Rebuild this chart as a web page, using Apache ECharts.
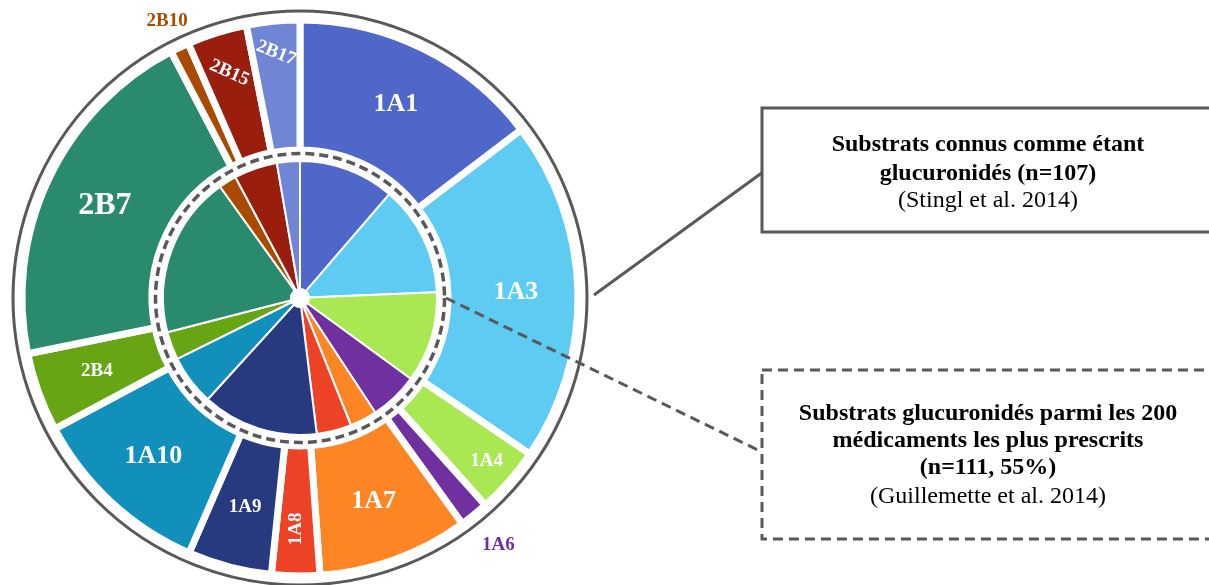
<!DOCTYPE html>
<html>
<head>
<meta charset="utf-8">
<script src="https://cdn.jsdelivr.net/npm/echarts@6/dist/echarts.min.js"></script>
<style>
  html, body { margin: 0; padding: 0; background: #ffffff; }
  #chart { width: 1209px; height: 585px; }
</style>
</head>
<body>
<div id="chart"></div>
<script>
// UGT isoforms, clockwise from 12 o'clock
const categories = ['1A1', '1A3', '1A4', '1A6', '1A7', '1A8', '1A9', '1A10', '2B4', '2B7', '2B10', '2B15', '2B17'];

// Outer ring: substrates known to be glucuronidated (Stingl et al. 2014), share in %
const knownSubstrates = [14.7, 19.9, 3.9, 1.7, 8.8, 2.8, 4.9, 10.7, 4.6, 20.6, 1.1, 3.5, 3.1];

// Inner pie: glucuronidated substrates among the 200 most prescribed drugs (Guillemette et al. 2014), share in %
const topPrescribed = [11.3, 13.0, 10.7, 5.7, 3.2, 4.1, 13.7, 5.9, 3.3, 19.1, 2.1, 5.1, 2.7];

const isoformColors = ['#4f67c8', '#5ecbf2', '#a9e852', '#7030a0', '#fd8524', '#ee4227', '#27397f',
                       '#1190bc', '#67a514', '#2a8a6e', '#a94a00', '#991e0e', '#7085d4'];

// Label look per isoform on the outer ring
// r: radius where the label sits (ring middle if absent); rotate: degrees, counter-clockwise
const labelLook = {
  '1A1':  { size: 26 },
  '1A3':  { size: 26 },
  '1A4':  { size: 19, r: 245 },
  '1A6':  { size: 19, r: 314, color: '#7030a0' },
  '1A7':  { size: 26 },
  '1A8':  { size: 19, r: 231, rotate: 90 },
  '1A9':  { size: 19 },
  '1A10': { size: 26 },
  '2B4':  { size: 19 },
  '2B7':  { size: 32 },
  '2B10': { size: 19, r: 304, color: '#a94a00' },
  '2B15': { size: 19, r: 236, rotate: -24 },
  '2B17': { size: 19, r: 246, rotate: -22 }
};

const captionTop = ['Substrats connus comme étant', 'glucuronidés (n=107)', '(Stingl et al. 2014)'];
const captionBottom = ['Substrats glucuronidés parmi les 200', 'médicaments les plus prescrits', '(n=111, 55%)', '(Guillemette et al. 2014)'];

const CX = 300, CY = 298;
const OUTER_R = [148, 278];
const INNER_R = [9, 137];
const GREY = '#595959';
const SERIF = '"Liberation Serif", "Times New Roman", serif';

// Mid angle of each outer slice (radians, clockwise from 12 o'clock)
const outerTotal = knownSubstrates.reduce((a, b) => a + b, 0);
const outerMid = [];
knownSubstrates.reduce((acc, v) => {
  outerMid.push((acc + v / 2) / outerTotal * 2 * Math.PI);
  return acc + v;
}, 0);
const ringMid = (OUTER_R[0] + OUTER_R[1]) / 2;

const outerData = categories.map((name, i) => {
  const look = labelLook[name];
  return {
    name: name,
    value: knownSubstrates[i],
    itemStyle: { color: isoformColors[i] },
    label: {
      show: !look.rotate,
      fontSize: look.size,
      color: look.color || '#ffffff'
    }
  };
});

const innerData = categories.map((name, i) => ({
  name: name,
  value: topPrescribed[i],
  itemStyle: { color: isoformColors[i] }
}));

// Tilted labels of the narrow slices, placed along each slice's mid angle
const tiltedLabels = categories
  .map((name, i) => ({ name, i, look: labelLook[name] }))
  .filter(d => d.look.rotate)
  .map(d => ({
    type: 'text', z: 12,
    x: CX + d.look.r * Math.sin(outerMid[d.i]),
    y: CY - d.look.r * Math.cos(outerMid[d.i]),
    rotation: d.look.rotate * Math.PI / 180,
    style: {
      text: d.name, fill: d.look.color || '#ffffff',
      textAlign: 'center', textVerticalAlign: 'middle',
      font: 'bold ' + d.look.size + 'px ' + SERIF
    }
  }));

function captionLines(lines, ys, boldCount) {
  return lines.map((t, i) => ({
    type: 'text', z: 11, x: 988, y: ys[i],
    style: {
      text: t, fill: '#000000', textAlign: 'center', textVerticalAlign: 'middle',
      font: (i < boldCount ? 'bold ' : '') + '24px ' + SERIF
    }
  }));
}

const chart = echarts.init(document.getElementById('chart'), null, { renderer: 'canvas' });

chart.setOption({
  backgroundColor: '#ffffff',
  animation: false,
  series: [
    {
      type: 'pie',
      silent: true,
      center: [CX, CY],
      radius: INNER_R,
      startAngle: 90,
      clockwise: true,
      avoidLabelOverlap: false,
      label: { show: false },
      labelLine: { show: false },
      itemStyle: { borderColor: '#ffffff', borderWidth: 2 },
      data: innerData,
      z: 2
    },
    {
      type: 'pie',
      silent: true,
      center: [CX, CY],
      radius: OUTER_R,
      startAngle: 90,
      clockwise: true,
      avoidLabelOverlap: false,
      itemStyle: { borderColor: '#ffffff', borderWidth: 7 },
      label: {
        show: true,
        position: 'inside',
        formatter: '{b}',
        fontFamily: SERIF,
        fontWeight: 'bold'
      },
      labelLine: { show: false },
      labelLayout: function (params) {
        const look = labelLook[categories[params.dataIndex]];
        if (!look || !look.r || look.rotate) return {};
        const a = outerMid[params.dataIndex];
        const d = look.r - ringMid;
        return { dx: d * Math.sin(a), dy: -d * Math.cos(a) };
      },
      data: outerData,
      z: 2
    }
  ],
  graphic: {
    elements: [
      // frame around the whole ring
      { type: 'circle', z: 10, shape: { cx: CX, cy: CY, r: 287 },
        style: { fill: 'none', stroke: GREY, lineWidth: 3 } },
      // dashed frame around the inner pie
      { type: 'circle', z: 10, shape: { cx: CX, cy: CY, r: 144.5 },
        style: { fill: 'none', stroke: GREY, lineWidth: 3.5, lineDash: [9, 5] } },
      // connectors to the two caption boxes
      { type: 'line', z: 10, shape: { x1: 594, y1: 295, x2: 763, y2: 172 },
        style: { stroke: GREY, lineWidth: 3 } },
      { type: 'line', z: 10, shape: { x1: 446, y1: 298, x2: 762, y2: 452 },
        style: { stroke: GREY, lineWidth: 3, lineDash: [10, 6] } },
      // caption boxes
      { type: 'rect', z: 10, shape: { x: 762, y: 108, width: 470, height: 124 },
        style: { fill: '#ffffff', stroke: GREY, lineWidth: 3 } },
      { type: 'rect', z: 10, shape: { x: 762, y: 370, width: 470, height: 169 },
        style: { fill: '#ffffff', stroke: GREY, lineWidth: 3, lineDash: [10, 6] } }
    ]
    .concat(tiltedLabels)
    .concat(captionLines(captionTop, [145, 174, 201], 2))
    .concat(captionLines(captionBottom, [414, 441, 468, 497], 3))
  }
});
</script>
</body>
</html>
